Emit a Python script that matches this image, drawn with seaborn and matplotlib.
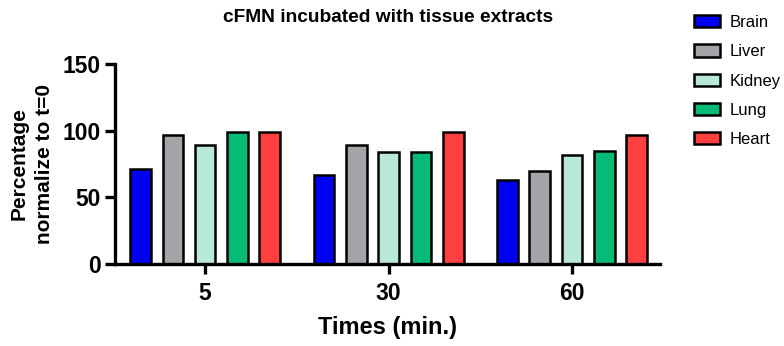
import pandas as pd
import numpy as np
import matplotlib.pyplot as plt
import seaborn as sns

# data
times = ['5', '30', '60']
tissues = ['Brain', 'Liver', 'Kidney', 'Lung', 'Heart']
brain = [71, 67, 63]
liver = [97, 89, 70]
kidney = [89, 84, 82]
lung = [99, 84, 85]
heart = [99, 99, 97]
colors = ['#0000f5', '#a3a3a8', '#b8e8d6', '#05bb75', '#ff4040']

vals = [brain, liver, kidney, lung, heart]
rows = []
for t, v in zip(tissues, vals):
    for tm, y in zip(times, v):
        rows.append({'Time': tm, 'Tissue': t, 'Pct': y})
df = pd.DataFrame(rows)

sns.set_style("ticks", {'text.color': 'black', 'axes.labelcolor': 'black',
                        'xtick.color': 'black', 'ytick.color': 'black',
                        'axes.edgecolor': 'black'})
plt.rcParams['font.family'] = ['Liberation Sans', 'DejaVu Sans']

fig = plt.figure(figsize=(7.84, 3.46), dpi=100)
ax = fig.add_axes([0.147, 0.237, 0.695, 0.578])

sns.barplot(data=df, x='Time', y='Pct', hue='Tissue', order=times,
            hue_order=tissues, palette=colors, width=0.88, gap=0.36,
            edgecolor='black', linewidth=1.8, saturation=1, ax=ax)

ax.set_ylim(0, 150)
ax.set_xlim(-0.49, 2.48)
ax.set_yticks([0, 50, 100, 150])
sns.despine(ax=ax)
for s in ['left', 'bottom']:
    ax.spines[s].set_linewidth(2.4)
ax.tick_params(axis='both', width=2.4, length=7, labelsize=16.5)
ax.tick_params(axis='x', pad=6)
for lab in ax.get_xticklabels() + ax.get_yticklabels():
    lab.set_fontweight('bold')

ax.set_title('cFMN incubated with tissue extracts', fontsize=13.8,
             fontweight='bold', pad=30)
ax.set_xlabel('Times (min.)', fontsize=17, fontweight='bold', labelpad=8)
ax.set_ylabel('Percentage\nnormalize to t=0', fontsize=15,
              fontweight='bold', labelpad=6, linespacing=1.4)

ax.legend(loc='upper left', bbox_to_anchor=(0.872, 0.985),
          bbox_transform=fig.transFigure, frameon=False,
          fontsize=12, handlelength=1.6, handleheight=0.75,
          labelspacing=0.85, handletextpad=0.55, borderaxespad=0.2)

plt.savefig('out.png', dpi=100)
